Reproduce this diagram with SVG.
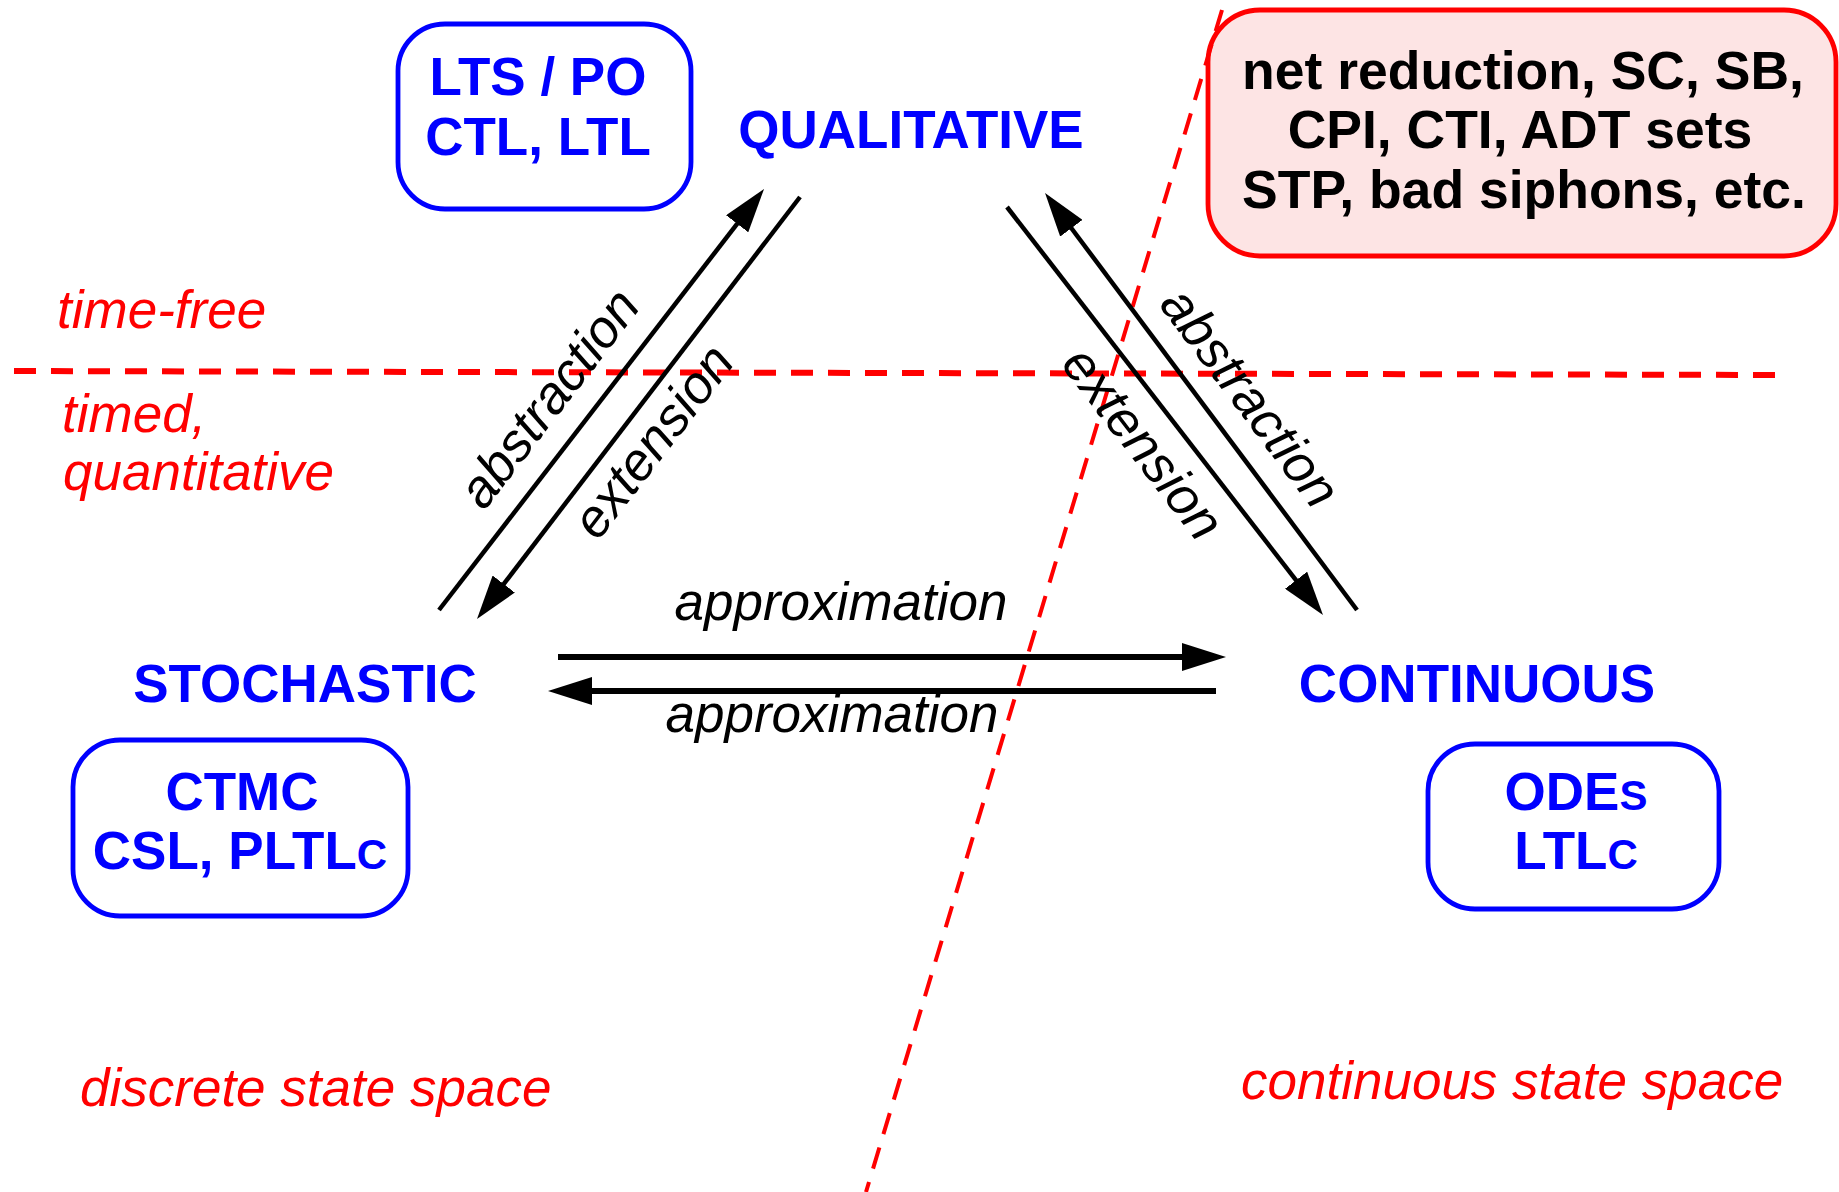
<svg xmlns="http://www.w3.org/2000/svg" width="1839" height="1192" viewBox="0 0 1839 1192">
<style>
.bl{font-family:"Liberation Sans",Arial,sans-serif;font-weight:bold;font-size:53px;fill:#0000ff;text-anchor:middle}
.bk{font-family:"Liberation Sans",Arial,sans-serif;font-weight:bold;font-size:53.5px;fill:#000;text-anchor:middle}
.it{font-family:"Liberation Sans",Arial,sans-serif;font-style:italic;font-size:53px;fill:#000;text-anchor:middle}
.rd{font-family:"Liberation Sans",Arial,sans-serif;font-style:italic;font-size:53px;fill:#ff0000}
.box{fill:#fff;stroke:#0000ff;stroke-width:4.8}
.sm{font-size:42px}
.arr{stroke:#000;fill:none}
.dash{stroke:#ff0000;fill:none}
</style>
<defs>
<marker id="ah" markerUnits="userSpaceOnUse" markerWidth="44" markerHeight="28" refX="4" refY="14" orient="auto">
<path d="M0,0 L44,14 L0,28 Z" fill="#000"/>
</marker>
</defs>
<g id="separators">
<line class="dash" x1="14" y1="371" x2="1782" y2="375" stroke-width="6" stroke-dasharray="22 15"/>
</g>
<g id="red-box">
<rect x="1208" y="10" width="628" height="246" rx="52" fill="#fde4e4" stroke="#ff0000" stroke-width="4.8"/>
<text class="bk" x="1523" y="89">net reduction, SC, SB,</text>
<text class="bk" x="1520" y="148">CPI, CTI, ADT sets</text>
<text class="bk" x="1524" y="208">STP, bad siphons, etc.</text>
</g>
<g id="diag-separator">
<line class="dash" x1="1222" y1="10" x2="866" y2="1192" stroke-width="4" stroke-dasharray="22 14"/>
</g>
<g id="lts-box">
<rect class="box" x="398" y="24" width="293" height="185" rx="47"/>
<text class="bl" x="538" y="95">LTS / PO</text>
<text class="bl" x="538" y="155">CTL, LTL</text>
</g>
<g id="qualitative"><text class="bl" x="911" y="148">QUALITATIVE</text></g>
<g id="stochastic"><text class="bl" x="305" y="702">STOCHASTIC</text></g>
<g id="continuous"><text class="bl" x="1477" y="702">CONTINUOUS</text></g>
<g id="ctmc-box">
<rect class="box" x="73" y="740" width="335" height="176" rx="47"/>
<text class="bl" x="242" y="810">CTMC</text>
<text class="bl" x="240" y="869">CSL, PLTL<tspan class="sm">C</tspan></text>
</g>
<g id="odes-box">
<rect class="box" x="1428" y="744" width="291" height="165" rx="47"/>
<text class="bl" x="1576" y="810">ODE<tspan class="sm">S</tspan></text>
<text class="bl" x="1576" y="869">LTL<tspan class="sm">C</tspan></text>
</g>
<g id="connectors">
<line class="arr" x1="439" y1="610" x2="739.6" y2="220.6" stroke-width="4.5" marker-end="url(#ah)"/>
<line class="arr" x1="800" y1="197" x2="501.3" y2="587.2" stroke-width="4.5" marker-end="url(#ah)"/>
<line class="arr" x1="1007" y1="207" x2="1298.5" y2="583.4" stroke-width="4.5" marker-end="url(#ah)"/>
<line class="arr" x1="1357" y1="610" x2="1069" y2="225" stroke-width="4.5" marker-end="url(#ah)"/>
<line class="arr" x1="558" y1="657" x2="1186" y2="657" stroke-width="6" marker-end="url(#ah)"/>
<line class="arr" x1="1216" y1="691" x2="588" y2="691" stroke-width="6" marker-end="url(#ah)"/>
</g>
<g id="connector-labels">
<text class="it" transform="translate(563,409) rotate(-52.4)">abstraction</text>
<text class="it" transform="translate(667,452) rotate(-52.4)">extension</text>
<text class="it" transform="translate(1236,408) rotate(53)">abstraction</text>
<text class="it" transform="translate(1129,454) rotate(52.3)">extension</text>
<text class="it" x="841" y="620">approximation</text>
<text class="it" x="832" y="732">approximation</text>
</g>
<g id="region-labels">
<text class="rd" x="57" y="328">time-free</text>
<text class="rd" x="62" y="432">timed,</text>
<text class="rd" x="63" y="490">quantitative</text>
<text class="rd" x="80" y="1106">discrete state space</text>
<text class="rd" x="1241" y="1099">continuous state space</text>
</g>
</svg>
